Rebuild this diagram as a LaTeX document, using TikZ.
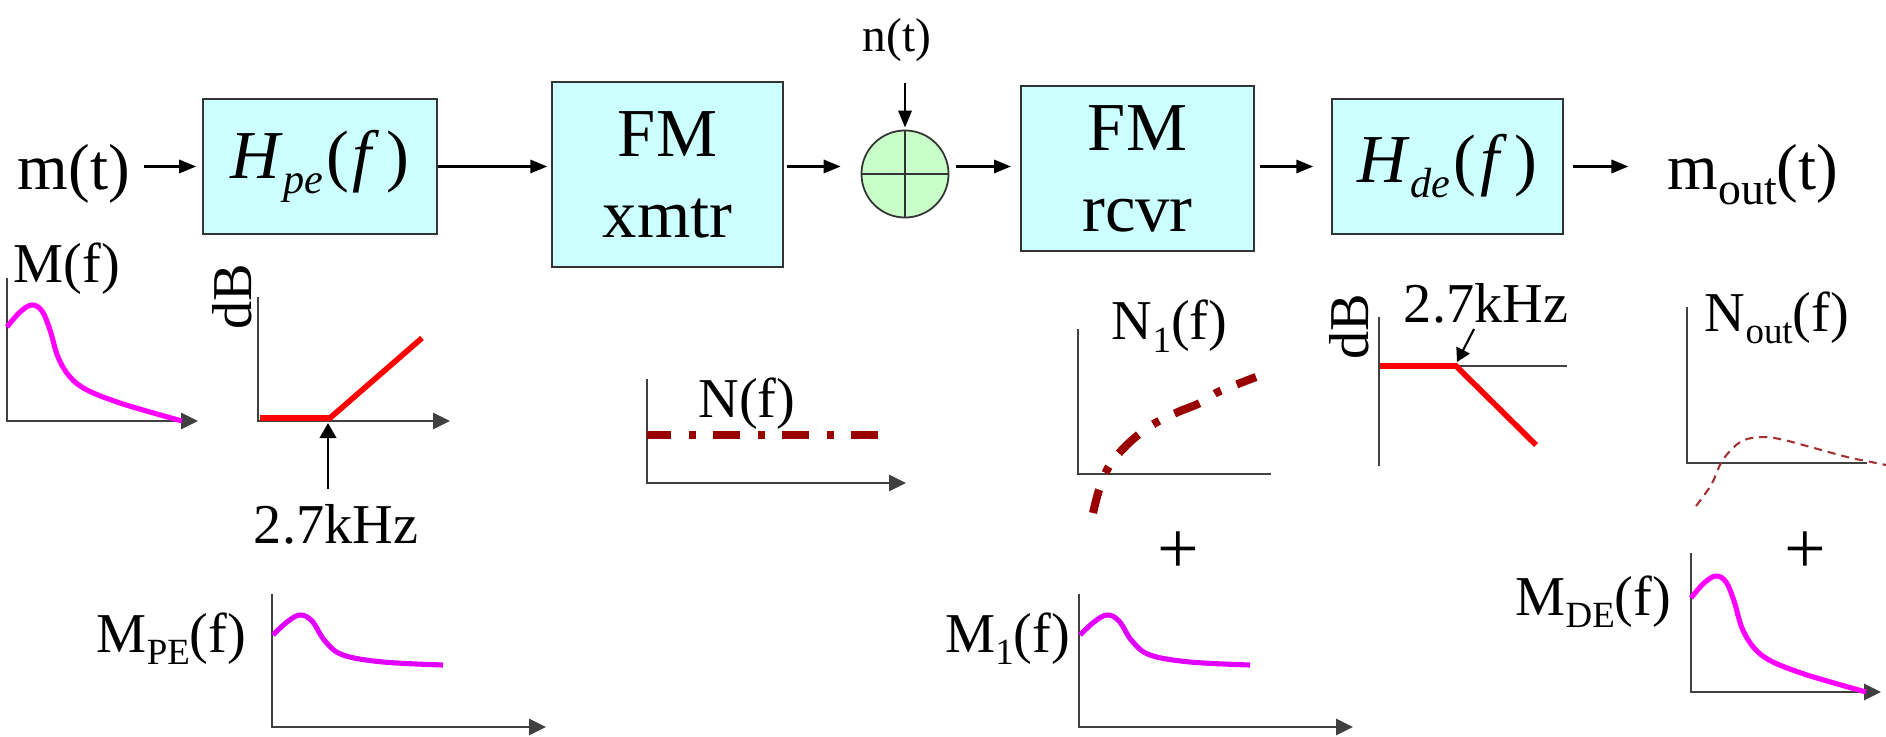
\documentclass[tikz,border=0pt]{standalone}
\usepackage{fontspec}
\setmainfont{Liberation Serif}
\usepackage{xcolor}
\usetikzlibrary{arrows.meta}
\definecolor{boxcyan}{HTML}{CCFFFF}
\definecolor{sumgreen}{HTML}{C8FFC8}
\definecolor{edgegray}{HTML}{333333}
\definecolor{axgray}{HTML}{404040}
\definecolor{sigmag}{HTML}{FF00FF}
\definecolor{sigvio}{HTML}{E100FF}
\definecolor{noisered}{HTML}{990000}
\definecolor{outred}{HTML}{A33333}
\newcommand\bigfnt{\fontsize{19.5}{23}\selectfont}
\newcommand\sigfnt{\fontsize{18.5}{22}\selectfont}
\newcommand\lblfnt{\fontsize{16}{19}\selectfont}
\newcommand\ntfnt{\fontsize{13.5}{16}\selectfont}
\newcommand\plusfnt{\fontsize{21}{21}\selectfont}
\newcommand\lowsub[3]{\raisebox{-#2}{\fontsize{#1}{#1}\selectfont #3}}
\newcommand\Hsub[1]{\textit{H}\lowsub{12}{4.3pt}{\itshape #1}\hspace{1pt}(\hspace{1pt}\textit{f}\hspace{2pt})}

\begin{document}
\begin{tikzpicture}[x=0.01cm, y=-0.01cm, line width=0.5pt,
  block/.style={draw=edgegray, fill=boxcyan, line width=0.5pt, inner sep=0pt,
                align=center, font=\bigfnt},
  flow/.style={-{Triangle[length=4.8pt,width=3.8pt]}, line width=0.6pt},
  axis/.style={draw=axgray, line width=0.5pt},
  axarr/.style={axis, -{Triangle[length=4.8pt,width=4.6pt]}},
  ptr/.style={-{Triangle[length=4.3pt,width=4.8pt]}, line width=0.6pt},
  lbl/.style={font=\lblfnt, inner sep=0pt},
  sig/.style={line width=1.45pt},
  resp/.style={red, line width=1.6pt},
  noise/.style={noisered, line width=2.3pt,
                dash pattern=on 7.7pt off 5.1pt on 2pt off 4.8pt, dash phase=0.85pt}]

  \useasboundingbox (0,0) rectangle (1886,737);

  % -- the chain of blocks --------------------------------------------------
  \node[block, minimum width=2.34cm, minimum height=1.35cm] (hpe)  at (320,166.5)  {\Hsub{pe}};
  \node[block, minimum width=2.31cm, minimum height=1.85cm] (xmtr) at (667.5,174.5) {FM\\xmtr};
  \node[circle, draw=edgegray, fill=sumgreen, minimum size=0.87cm, inner sep=0pt] (sum) at (905,174) {};
  \node[block, minimum width=2.33cm, minimum height=1.65cm] (rcvr) at (1137.5,168.5) {FM\\rcvr};
  \node[block, minimum width=2.31cm, minimum height=1.35cm] (hde)  at (1447.5,166.5) {\Hsub{de}};
  \draw[edgegray] (sum.north) -- (sum.south) (sum.west) -- (sum.east);

  \node[font=\sigfnt, inner sep=0pt, anchor=base west] (mt)   at (17,190)   {m(t)};
  \node[font=\sigfnt, inner sep=0pt, anchor=base west] (mout) at (1667,190) {m\lowsub{13}{4pt}{out}(t)};
  \node[font=\ntfnt, inner sep=0pt] (nt) at (897,40) {n(t)};

  % -- signal flow ----------------------------------------------------------
  \draw[flow, shorten <=3.7pt, shorten >=1.7pt] (mt.east |- hpe.west) -- (hpe.west);
  \draw[flow, shorten >=1.1pt] (hpe.east) -- (hpe.east -| xmtr.west);
  \draw[flow, shorten <=0.9pt, shorten >=5.7pt] (xmtr.east |- hpe.east) -- (sum.west |- hpe.east);
  \draw[flow, shorten <=2pt, shorten >=2.6pt] (sum.east |- hpe.east) -- (rcvr.west |- hpe.east);
  \draw[flow, shorten <=1.4pt, shorten >=5.1pt] (rcvr.east |- hde.west) -- (hde.west);
  \draw[flow, shorten <=2.6pt, shorten >=11pt] (hde.east) -- (hde.east -| mout.west);
  \draw[flow, shorten <=6pt, shorten >=0.6pt] (nt.south -| sum.north) -- (sum.north);

  % -- message spectra M(f) and M_DE(f) -------------------------------------
  \draw[axarr] (7,278) -- (7,421) -- (198,421);
  \draw[axarr] (1691,553) -- (1691,692) -- (1881,692);
  \foreach \dx/\dy in {0/0, 1684/271}{
    \draw[sig, sigmag] plot[smooth, tension=0.6] coordinates {
      ({7+\dx},{327+\dy}) ({20+\dx},{312+\dy}) ({32+\dx},{305+\dy}) ({42+\dx},{311+\dy})
      ({50+\dx},{330+\dy}) ({58+\dx},{357+\dy}) ({70+\dx},{377+\dy}) ({87+\dx},{390+\dy})
      ({117+\dx},{402+\dy}) ({150+\dx},{412+\dy}) ({182+\dx},{421+\dy})};}
  \node[lbl, anchor=base west] (Mlbl) at (13,283)  {M(f)};
  \node[lbl, anchor=base east] (Mde)  at (1672,615) {M\lowsub{10.5}{3.5pt}{DE}(f)};

  % -- pre-emphasis curve ---------------------------------------------------
  \draw[axarr] (258,297) -- (258,421) -- (450,421);
  \draw[resp] (260,418) -- (330,418) -- (422,338);
  \node[lbl, rotate=90] (dbpe) at (232,297) {dB};
  \node[lbl, anchor=base] (kpe) at (336,543) {2.7kHz};
  \coordinate (brkpe) at (328,421);
  \coordinate (tailpe) at (328,489);
  \draw[ptr, shorten >=0.6pt] (tailpe) -- (brkpe);

  % -- M_PE(f) and M_1(f) ---------------------------------------------------
  \draw[axarr] (272,594) -- (272,727) -- (546,727);
  \draw[axarr] (1079,594) -- (1079,727) -- (1353,727);
  \foreach \dx in {0, 807}{
    \draw[sig, sigvio] plot[smooth, tension=0.6] coordinates {
      ({273+\dx},635) ({287+\dx},622) ({300+\dx},615) ({312+\dx},621) ({325+\dx},641)
      ({343+\dx},655) ({383+\dx},662) ({443+\dx},665)};}
  \node[lbl, anchor=base east] (Mpe) at (247,652)  {M\lowsub{10.5}{3.5pt}{PE}(f)};
  \node[lbl, anchor=base east] (M1)  at (1071,652) {M\lowsub{10.5}{3.5pt}{1}(f)};

  % -- channel noise N(f) and N_1(f) ----------------------------------------
  \draw[axarr] (647,379) -- (647,483) -- (906,483);
  \draw[noise] (647,435) -- (880,435);
  \node[lbl, anchor=base] (Nf) at (747,417) {N(f)};
  \draw[axis] (1078,329) -- (1078,474) -- (1271,474);
  \draw[noise] plot[smooth, tension=0.6] coordinates {
    (1093,513) (1099,490) (1108,468) (1120,452) (1138,435) (1157,422)
    (1178,412) (1200,403) (1218,392) (1243,382) (1256,377)};
  \node[lbl, anchor=base west] (N1) at (1111,340) {N\lowsub{10.5}{3.5pt}{1}(f)};
  \node[font=\plusfnt, inner sep=0pt] (plusA) at (1178,553) {+};

  % -- de-emphasis curve ----------------------------------------------------
  \draw[axis] (1379,317) -- (1379,466);
  \draw[axis] (1379,366) -- (1567,366);
  \draw[resp] (1380,366) -- (1456,366) -- (1536,445);
  \node[lbl, rotate=90] (dbde) at (1349,327) {dB};
  \node[lbl, anchor=base west] (kde) at (1403,323) {2.7kHz};
  \coordinate (brkde) at (1457,362);
  \coordinate (taillde) at (1474,329);
  \draw[ptr, -{Triangle[length=3.8pt,width=4.2pt]}] (taillde) -- (brkde);

  % -- output noise N_out(f) ------------------------------------------------
  \draw[axis] (1687,307) -- (1687,463) -- (1867,463);
  \draw[outred, line width=0.6pt, dash pattern=on 2.3pt off 1.7pt]
    plot[smooth, tension=0.6] coordinates {
    (1696,506) (1711,485) (1721,463) (1731,450) (1744,440) (1764,437)
    (1784,440) (1814,448) (1847,457) (1871,462) (1886,465)};
  \node[lbl, anchor=base west] (Nout) at (1704,331) {N\lowsub{10.5}{3.5pt}{out}(f)};
  \node[font=\plusfnt, inner sep=0pt] (plusB) at (1805,553) {+};

\end{tikzpicture}
\end{document}
